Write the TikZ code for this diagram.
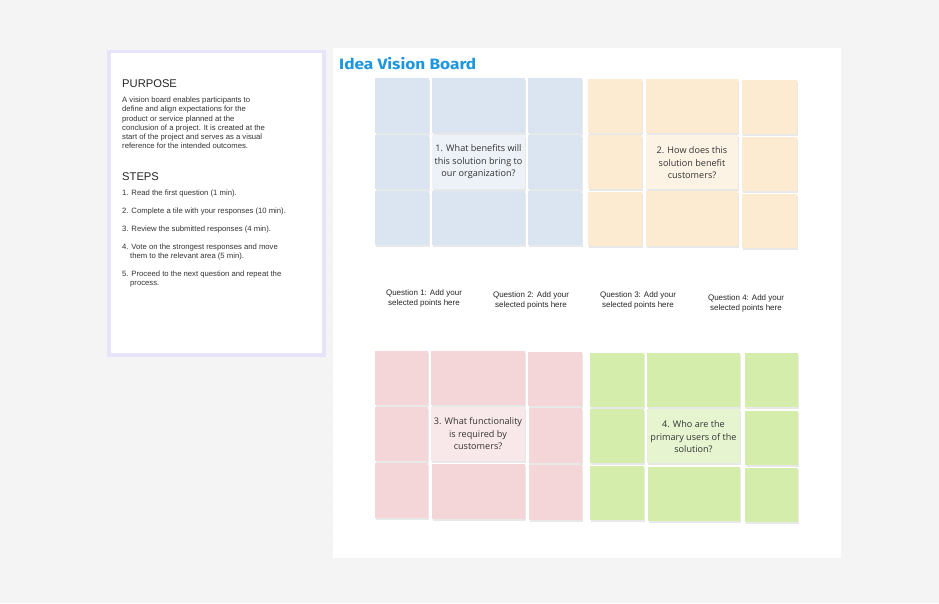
\documentclass[tikz,border=0pt]{standalone}
\usepackage{graphicx}
\usepackage{fontspec}
\setmainfont{Liberation Sans}
\newfontfamily\qfont{Open Sans}
\newfontfamily\titlefont{Fira Sans}
\definecolor{bgc}{HTML}{F4F4F4}
\definecolor{lav}{HTML}{E7E3F8}
\definecolor{bluet}{HTML}{DAE5F1}
\definecolor{bluec}{HTML}{EDF2F8}
\definecolor{orat}{HTML}{FCEBD0}
\definecolor{orac}{HTML}{FDF3E4}
\definecolor{redt}{HTML}{F4D6D9}
\definecolor{redc}{HTML}{F9E8EA}
\definecolor{grnt}{HTML}{D4EDAA}
\definecolor{grnc}{HTML}{E6F4D0}
\definecolor{titleblue}{HTML}{1E96DE}
\definecolor{txt}{HTML}{333333}
\tikzset{
  x=1pt,y=-1pt,
  tile/.style={fill=#1, draw=none},
  tshadow/.style={fill=black!9, draw=none},
  qtext/.style={font=\qfont\fontsize{9.1}{12.5}\selectfont, text=txt, align=center},
  lbl/.style={font=\fontsize{8}{10}\selectfont, text=black!85, align=center},
  body/.style={font=\fontsize{7.7}{9.2}\selectfont, text=black!80, align=left, anchor=north west, inner sep=0pt},
  head/.style={font=\fontsize{11.2}{12}\selectfont, text=black!85, anchor=north west, inner sep=0pt},
}
\newcommand{\tileat}[5]{%
  \fill[tshadow] (#1+1,#2+1.5) rectangle (#3+1,#4+1.5);
  \fill[tile=#5] (#1,#2) rectangle (#3,#4);}
\begin{document}
\begin{tikzpicture}
\fill[bgc] (0,0) rectangle (939,603);
\useasboundingbox (0,0) rectangle (939,603);
% faint dot grid
\foreach \i in {0,...,46} {\foreach \j in {0,...,30} {\fill[black!7] (10+\i*20,10+\j*20) circle (0.5);}}
% white board
\fill[white] (333,48) rectangle (841,558);
% left panel
\fill[lav] (107,50) rectangle (326,357);
\fill[white] (111,53) rectangle (322,353);
\node[head] (purpose) at (122,79) {PURPOSE};
\node[body] (purposetext) at (122,97) {A vision board enables participants to\\define and align expectations for the\\product or service planned at the\\conclusion of a project. It is created at the\\start of the project and serves as a visual\\reference for the intended outcomes.};
\node[head] (steps) at (122,172) {STEPS};
\node[body] (s1) at (122,190) {1. Read the first question (1 min).};
\node[body] (s2) at (122,208) {2. Complete a tile with your responses (10 min).};
\node[body] (s3) at (122,226) {3. Review the submitted responses (4 min).};
\node[body] (s4) at (122,244) {4. Vote on the strongest responses and move\\\hspace*{8pt}them to the relevant area (5 min).};
\node[body] (s5) at (122,271) {5. Proceed to the next question and repeat the\\\hspace*{8pt}process.};
% title
\node[anchor=west, inner sep=0pt, font=\titlefont\bfseries\fontsize{15}{17}\selectfont, text=titleblue] (title) at (339,64) {\scalebox{1.15}[1]{Idea Vision Board}};
% blue block
\tileat{375}{78}{429}{133}{bluet}
\tileat{432}{78}{525}{133}{bluet}
\tileat{528}{78}{582}{133}{bluet}
\tileat{375}{135}{429}{189}{bluet}
\tileat{432}{135}{525}{189}{bluec}
\tileat{528}{135}{582}{189}{bluet}
\tileat{375}{191}{429}{245}{bluet}
\tileat{432}{191}{525}{245}{bluet}
\tileat{528}{191}{582}{245}{bluet}
\node[qtext] (q1) at (478.5,162) {1. What benefits will\\this solution bring to\\our organization?};
% orange block
\tileat{588}{79}{642}{133}{orat}
\tileat{646}{79}{738}{133}{orat}
\tileat{742}{80}{797}{134}{orat}
\tileat{588}{135}{642}{189}{orat}
\tileat{646}{135}{738}{189}{orac}
\tileat{742}{137}{797}{191}{orat}
\tileat{588}{192}{642}{246}{orat}
\tileat{646}{191}{738}{246}{orat}
\tileat{742}{194}{797}{248}{orat}
\node[qtext] (q2) at (692,163) {2. How does this\\solution benefit\\customers?};
% labels
\node[lbl] (l1) at (424,298) {Question 1: Add your\\selected points here};
\node[lbl] (l2) at (531,300) {Question 2: Add your\\selected points here};
\node[lbl] (l3) at (638,300) {Question 3: Add your\\selected points here};
\node[lbl] (l4) at (746,303) {Question 4: Add your\\selected points here};
% red block
\tileat{375}{351}{428}{405}{redt}
\tileat{431}{351}{525}{405}{redt}
\tileat{528}{352}{582}{406}{redt}
\tileat{375}{407}{428}{461}{redt}
\tileat{431}{407}{525}{461}{redc}
\tileat{529}{408}{582}{463}{redt}
\tileat{375}{463}{428}{518}{redt}
\tileat{432}{464}{525}{519}{redt}
\tileat{529}{465}{582}{520}{redt}
\node[qtext] (q3) at (478,434) {3. What functionality\\is required by\\customers?};
% green block
\tileat{590}{353}{644}{407}{grnt}
\tileat{647}{353}{740}{407}{grnt}
\tileat{745}{353}{798}{407}{grnt}
\tileat{590}{409}{644}{463}{grnt}
\tileat{647}{409}{740}{463}{grnc}
\tileat{745}{411}{798}{465}{grnt}
\tileat{590}{466}{644}{520}{grnt}
\tileat{648}{467}{740}{521}{grnt}
\tileat{745}{468}{798}{522}{grnt}
\node[qtext] (q4) at (693.5,437) {4. Who are the\\primary users of the\\solution?};
\end{tikzpicture}
\end{document}
